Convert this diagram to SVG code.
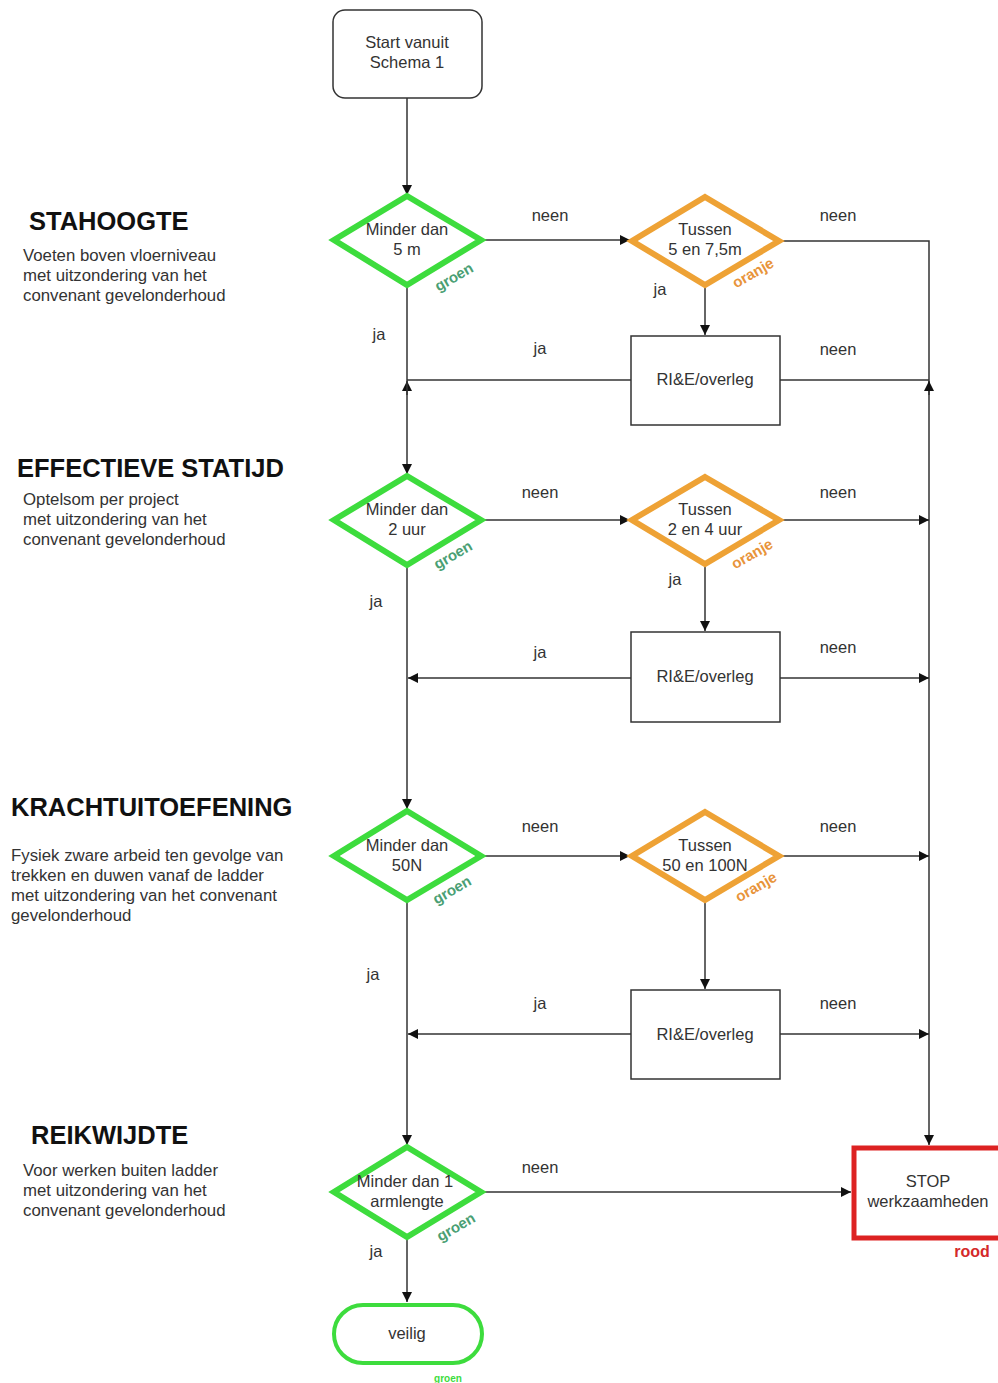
<svg xmlns="http://www.w3.org/2000/svg" width="998" height="1383" viewBox="0 0 998 1383">
<style>
text{font-family:"Liberation Sans",Arial,sans-serif;fill:#333}
.n{font-size:16.5px;text-anchor:middle}
.lbl{font-size:16.5px;text-anchor:middle}
.h{font-size:25.5px;font-weight:bold;fill:#111}
.b{font-size:16.8px}
.g{font-size:15px;font-weight:bold;text-anchor:middle;fill:#4a9f74}
.o{font-size:15px;font-weight:bold;text-anchor:middle;fill:#e8943a}
.dg{fill:#fff;stroke:#3ddc3d;stroke-width:6;stroke-linejoin:miter}
.do{fill:#fff;stroke:#eea235;stroke-width:6}
.box{fill:#fff;stroke:#333;stroke-width:1.5}
.c{fill:none;stroke:#333;stroke-width:1.5}
</style>
<defs>
<marker id="ar" viewBox="0 0 10 10" refX="10" refY="5" markerWidth="11" markerHeight="10" markerUnits="userSpaceOnUse" orient="auto">
<path d="M0,0 L10,5 L0,10 z" fill="#111"/>
</marker>
</defs>
<rect width="998" height="1383" fill="#fff"/>

<g id="connectors">
<path class="c" d="M407,98 V195" marker-end="url(#ar)"/>
<path class="c" d="M482,240 H630" marker-end="url(#ar)"/>
<path class="c" d="M780,241 H929 V1145" marker-end="url(#ar)"/>
<path class="c" d="M705,285 V335" marker-end="url(#ar)"/>
<path class="c" d="M631,380 H407"/>
<path class="c" d="M407,395 V381" marker-end="url(#ar)"/>
<path class="c" d="M780,380 H929"/>
<path class="c" d="M929,395 V381" marker-end="url(#ar)"/>
<path class="c" d="M407,285 V474" marker-end="url(#ar)"/>
<path class="c" d="M482,520 H630" marker-end="url(#ar)"/>
<path class="c" d="M780,520 H929" marker-end="url(#ar)"/>
<path class="c" d="M705,565 V631" marker-end="url(#ar)"/>
<path class="c" d="M631,678 H408" marker-end="url(#ar)"/>
<path class="c" d="M780,678 H929" marker-end="url(#ar)"/>
<path class="c" d="M407,565 V809" marker-end="url(#ar)"/>
<path class="c" d="M482,856 H630" marker-end="url(#ar)"/>
<path class="c" d="M780,856 H929" marker-end="url(#ar)"/>
<path class="c" d="M705,900 V989" marker-end="url(#ar)"/>
<path class="c" d="M631,1034 H408" marker-end="url(#ar)"/>
<path class="c" d="M780,1034 H929" marker-end="url(#ar)"/>
<path class="c" d="M407,900 V1145" marker-end="url(#ar)"/>
<path class="c" d="M482,1192 H851" marker-end="url(#ar)"/>
<path class="c" d="M407,1237 V1302" marker-end="url(#ar)"/>
<text class="lbl" x="550" y="221">neen</text>
<text class="lbl" x="838" y="221">neen</text>
<text class="lbl" x="660" y="295">ja</text>
<text class="lbl" x="379" y="340">ja</text>
<text class="lbl" x="540" y="354">ja</text>
<text class="lbl" x="838" y="355">neen</text>
<text class="lbl" x="540" y="498">neen</text>
<text class="lbl" x="838" y="498">neen</text>
<text class="lbl" x="675" y="585">ja</text>
<text class="lbl" x="376" y="607">ja</text>
<text class="lbl" x="540" y="658">ja</text>
<text class="lbl" x="838" y="653">neen</text>
<text class="lbl" x="540" y="832">neen</text>
<text class="lbl" x="838" y="832">neen</text>
<text class="lbl" x="373" y="980">ja</text>
<text class="lbl" x="540" y="1009">ja</text>
<text class="lbl" x="838" y="1009">neen</text>
<text class="lbl" x="540" y="1173">neen</text>
<text class="lbl" x="376" y="1257">ja</text>
</g>

<g id="legend-stahoogte">
<text class="h" x="29" y="230">STAHOOGTE</text>
<text class="b" x="23" y="261">Voeten boven vloerniveau</text>
<text class="b" x="23" y="281">met uitzondering van het</text>
<text class="b" x="23" y="301">convenant gevelonderhoud</text>
</g>
<g id="legend-statijd">
<text class="h" x="17" y="477">EFFECTIEVE STATIJD</text>
<text class="b" x="23" y="505">Optelsom per project</text>
<text class="b" x="23" y="525">met uitzondering van het</text>
<text class="b" x="23" y="545">convenant gevelonderhoud</text>
</g>
<g id="legend-kracht">
<text class="h" x="11" y="816">KRACHTUITOEFENING</text>
<text class="b" x="11" y="861">Fysiek zware arbeid ten gevolge van</text>
<text class="b" x="11" y="881">trekken en duwen vanaf de ladder</text>
<text class="b" x="11" y="901">met uitzondering van het convenant</text>
<text class="b" x="11" y="921">gevelonderhoud</text>
</g>
<g id="legend-reikwijdte">
<text class="h" x="31" y="1144">REIKWIJDTE</text>
<text class="b" x="23" y="1176">Voor werken buiten ladder</text>
<text class="b" x="23" y="1196">met uitzondering van het</text>
<text class="b" x="23" y="1216">convenant gevelonderhoud</text>
</g>

<g id="start">
<rect class="box" x="333" y="10" width="149" height="88" rx="12"/>
<text class="n" x="407" y="48">Start vanuit</text>
<text class="n" x="407" y="68">Schema 1</text>
</g>

<g id="d1">
<polygon class="dg" points="407,196 481,240 407,285 334,240"/>
<text class="n" x="407" y="235">Minder dan</text>
<text class="n" x="407" y="255">5 m</text>
<text class="g" transform="rotate(-30 454 277)" x="454" y="282">groen</text>
</g>
<g id="o1">
<polygon class="do" points="705,197 779,241 705,285 632,241"/>
<text class="n" x="705" y="235">Tussen</text>
<text class="n" x="705" y="255">5 en 7,5m</text>
<text class="o" transform="rotate(-30 753 273)" x="753" y="278">oranje</text>
</g>
<g id="r1">
<rect class="box" x="631" y="336" width="149" height="89"/>
<text class="n" x="705" y="385">RI&amp;E/overleg</text>
</g>

<g id="d2">
<polygon class="dg" points="407,476 481,520 407,565 334,520"/>
<text class="n" x="407" y="515">Minder dan</text>
<text class="n" x="407" y="535">2 uur</text>
<text class="g" transform="rotate(-30 453 555)" x="453" y="560">groen</text>
</g>
<g id="o2">
<polygon class="do" points="705,477 779,520 705,564 632,520"/>
<text class="n" x="705" y="515">Tussen</text>
<text class="n" x="705" y="535">2 en 4 uur</text>
<text class="o" transform="rotate(-30 752 554)" x="752" y="559">oranje</text>
</g>
<g id="r2">
<rect class="box" x="631" y="632" width="149" height="90"/>
<text class="n" x="705" y="682">RI&amp;E/overleg</text>
</g>

<g id="d3">
<polygon class="dg" points="407,811 481,856 407,900 334,856"/>
<text class="n" x="407" y="851">Minder dan</text>
<text class="n" x="407" y="871">50N</text>
<text class="g" transform="rotate(-30 452 890)" x="452" y="895">groen</text>
</g>
<g id="o3">
<polygon class="do" points="705,812 779,856 705,900 632,856"/>
<text class="n" x="705" y="851">Tussen</text>
<text class="n" x="705" y="871">50 en 100N</text>
<text class="o" transform="rotate(-30 756 887)" x="756" y="892">oranje</text>
</g>
<g id="r3">
<rect class="box" x="631" y="990" width="149" height="89"/>
<text class="n" x="705" y="1040">RI&amp;E/overleg</text>
</g>

<g id="d4">
<polygon class="dg" points="407,1147 481,1192 407,1237 334,1192"/>
<text class="n" x="405" y="1187">Minder dan 1</text>
<text class="n" x="407" y="1207">armlengte</text>
<text class="g" transform="rotate(-30 456 1227)" x="456" y="1232">groen</text>
</g>

<g id="stop">
<rect x="854" y="1148" width="150" height="90" fill="#fff" stroke="#dd2222" stroke-width="5"/>
<text class="n" x="928" y="1187">STOP</text>
<text class="n" x="928" y="1207">werkzaamheden</text>
<text x="972" y="1257" style="font-size:16px;font-weight:bold;fill:#d42a2a;text-anchor:middle">rood</text>
</g>

<g id="veilig">
<rect x="334" y="1305" width="148" height="58" rx="29" fill="#fff" stroke="#3ddc3d" stroke-width="4"/>
<text class="n" x="407" y="1339">veilig</text>
<text x="448" y="1382" style="font-size:10px;font-weight:bold;fill:#3ddc3d;text-anchor:middle">groen</text>
</g>
</svg>
